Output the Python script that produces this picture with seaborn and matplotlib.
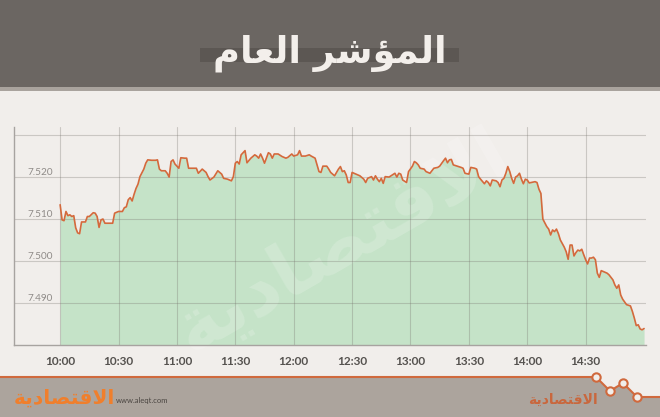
import matplotlib.pyplot as plt
import matplotlib.patches as mpatches
import matplotlib.lines as mlines
import seaborn as sns

# minutes after 10:00 and index level
minutes = [
    0, 1, 2, 3, 4, 5, 6, 7, 8, 9,
    10, 11, 13, 14, 15, 17, 18, 19, 20, 21,
    22, 23, 25, 27, 28, 30, 32, 33, 34, 35,
    36, 37, 38, 39, 40, 41, 43, 44, 45, 47,
    49, 50, 51, 52, 54, 55, 56, 57, 58, 59,
    61, 62, 64, 65, 66, 68, 70, 71, 73, 75,
    76, 77, 79, 81, 83, 84, 86, 88, 89, 90,
    91, 92, 93, 95, 96, 98, 100, 101, 102, 103,
    104, 105, 107, 108, 109, 110, 112, 114, 116, 117,
    119, 120, 122, 123, 124, 126, 128, 129, 131, 132,
    133, 134, 135, 137, 138, 139, 141, 142, 143, 144,
    145, 146, 147, 148, 149, 150, 152, 154, 156, 157,
    158, 160, 161, 162, 163, 164, 165, 166, 167, 169,
    170, 172, 173, 174, 175, 176, 178, 179, 181, 182,
    183, 184, 185, 187, 188, 190, 191, 192, 194, 195,
    197, 198, 199, 200, 201, 202, 204, 206, 207, 208,
    210, 211, 213, 214, 215, 216, 218, 219, 220, 221,
    222, 224, 225, 226, 227, 228, 229, 230, 231, 232,
    233, 234, 235, 236, 237, 238, 239, 240, 241, 242,
    244, 245, 246, 247, 248, 250, 251, 252, 253, 254,
    255, 256, 257, 259, 260, 261, 262, 263, 264, 265,
    266, 267, 268, 269, 270, 271, 272, 273, 274, 275,
    276, 277, 278, 279, 281, 282, 284, 285, 286, 287,
    288, 289, 291, 293, 294, 295, 296, 297, 298, 299, 300,
]
index_values = [
    7.5133, 7.5097, 7.5095, 7.5117, 7.5107, 7.5109, 7.5105, 7.5107, 7.5078, 7.5066,
    7.5064, 7.5092, 7.5092, 7.5105, 7.5105, 7.5114, 7.5113, 7.5105, 7.5079, 7.5097,
    7.5099, 7.5089, 7.5089, 7.5089, 7.5113, 7.5117, 7.5117, 7.5126, 7.5128, 7.5145,
    7.5150, 7.5142, 7.5158, 7.5172, 7.5182, 7.5200, 7.5218, 7.5232, 7.5240, 7.5239,
    7.5239, 7.5240, 7.5218, 7.5214, 7.5214, 7.5208, 7.5199, 7.5236, 7.5240, 7.5230,
    7.5220, 7.5245, 7.5244, 7.5244, 7.5220, 7.5220, 7.5220, 7.5208, 7.5218, 7.5210,
    7.5200, 7.5192, 7.5199, 7.5214, 7.5206, 7.5196, 7.5194, 7.5190, 7.5200, 7.5232,
    7.5236, 7.5230, 7.5252, 7.5262, 7.5233, 7.5244, 7.5252, 7.5249, 7.5244, 7.5254,
    7.5244, 7.5232, 7.5257, 7.5254, 7.5244, 7.5254, 7.5254, 7.5248, 7.5244, 7.5246,
    7.5254, 7.5249, 7.5252, 7.5262, 7.5249, 7.5249, 7.5252, 7.5249, 7.5244, 7.5228,
    7.5212, 7.5210, 7.5225, 7.5225, 7.5218, 7.5210, 7.5202, 7.5210, 7.5218, 7.5224,
    7.5212, 7.5214, 7.5204, 7.5186, 7.5186, 7.5210, 7.5206, 7.5202, 7.5194, 7.5186,
    7.5196, 7.5200, 7.5192, 7.5202, 7.5194, 7.5188, 7.5196, 7.5184, 7.5200, 7.5199,
    7.5202, 7.5208, 7.5199, 7.5208, 7.5206, 7.5192, 7.5186, 7.5212, 7.5225, 7.5236,
    7.5233, 7.5228, 7.5220, 7.5218, 7.5212, 7.5208, 7.5214, 7.5220, 7.5222, 7.5225,
    7.5238, 7.5244, 7.5233, 7.5240, 7.5241, 7.5228, 7.5225, 7.5222, 7.5220, 7.5208,
    7.5206, 7.5222, 7.5220, 7.5218, 7.5200, 7.5194, 7.5183, 7.5190, 7.5186, 7.5178,
    7.5192, 7.5190, 7.5186, 7.5176, 7.5192, 7.5196, 7.5208, 7.5224, 7.5212, 7.5196,
    7.5184, 7.5199, 7.5202, 7.5208, 7.5194, 7.5183, 7.5194, 7.5192, 7.5185, 7.5186,
    7.5188, 7.5186, 7.5170, 7.5160, 7.5099, 7.5081, 7.5075, 7.5061, 7.5073, 7.5069,
    7.5075, 7.5064, 7.5049, 7.5032, 7.5021, 7.5003, 7.5037, 7.5037, 7.5011, 7.5019,
    7.5025, 7.5023, 7.5027, 7.5014, 7.5002, 7.4992, 7.5006, 7.5006, 7.5008, 7.5002,
    7.4970, 7.4960, 7.4976, 7.4974, 7.4970, 7.4966, 7.4954, 7.4942, 7.4934, 7.4942,
    7.4918, 7.4908, 7.4895, 7.4892, 7.4879, 7.4863, 7.4845, 7.4847, 7.4837, 7.4835, 7.4838,
]

tick_minutes = [0, 30, 60, 90, 120, 150, 180, 210, 240, 270]
tick_labels = ["10:00", "10:30", "11:00", "11:30", "12:00",
               "12:30", "13:00", "13:30", "14:00", "14:30"]
y_ticks = [7.490, 7.500, 7.510, 7.520, 7.530]
y_labels = ["7.490", "7.500", "7.510", "7.520", ""]

# Arabic written in presentation forms, visual order (matplotlib does no shaping)
title_text = "\ufee1\ufe8e\ufecc\ufedf\ufe8d \ufeae\ufeb7\ufe86\ufee4\ufedf\ufe8d"  # المؤشر العام
logo_text = "\ufe94\ufef3\ufea9\ufe8e\ufebc\ufe98\ufed7\ufefb\ufe8d"  # الاقتصادية

W, H = 660, 417


def px(x, y):
    return x / W, 1 - y / H


sns.set_style("white")
plt.rcParams["font.family"] = ["Lato", "DejaVu Sans"]

fig = plt.figure(figsize=(6.6, 4.17), dpi=100)
fig.patch.set_facecolor("#f1eeeb")

# header band
fig.add_artist(mpatches.Rectangle(px(0, 87), 1, 87 / H, transform=fig.transFigure,
                                  color="#6b6662", lw=0))
fig.add_artist(mpatches.Rectangle(px(0, 91), 1, 4 / H, transform=fig.transFigure,
                                  color="#a9a39d", lw=0))
fig.add_artist(mpatches.Rectangle(px(200, 62), 259 / W, 14 / H, transform=fig.transFigure,
                                  color="#5c5753", lw=0))
fig.text(*px(330, 63), title_text, ha="center", va="baseline", fontsize=26.5,
         color="#f3efeb", weight="bold", family="DejaVu Sans")

# footer band with the little orange zigzag
foot = [(0, 377), (596, 377), (610, 391), (623, 383), (637, 397), (660, 397)]
poly = [px(x, y) for x, y in foot] + [px(660, 417), px(0, 417)]
fig.add_artist(mpatches.Polygon(poly, closed=True, transform=fig.transFigure,
                                color="#aca49d", lw=0))
fx = [px(x, y)[0] for x, y in foot]
fy = [px(x, y)[1] for x, y in foot]
fig.add_artist(mlines.Line2D(fx, fy, transform=fig.transFigure, color="#d0693d", lw=1.5))
fig.add_artist(mlines.Line2D(fx[1:5], fy[1:5], transform=fig.transFigure, ls="none",
                             marker="o", ms=6, mfc="#f1eeeb", mec="#d0693d", mew=1.5))

fig.text(*px(64, 404), logo_text, ha="center", va="baseline", fontsize=14.5,
         color="#f07f2c", weight="bold", family="DejaVu Sans")
fig.text(*px(116, 401), "www.aleqt.com", ha="left", va="center", fontsize=5.5,
         color="#4a4541")
fig.text(*px(563, 404), logo_text, ha="center", va="baseline", fontsize=10,
         color="#c9673d", weight="bold", family="DejaVu Sans")

# chart
ax = fig.add_axes([14 / W, 1 - 344.5 / H, 632 / W, (344.5 - 126.7) / H])
ax.set_facecolor("none")

ax.fill_between(minutes, index_values, 7.48, color="#c5e3c8", lw=0, zorder=1)
sns.lineplot(x=minutes, y=index_values, ax=ax, color="#d4693c", lw=1.2, zorder=2)

# faint background watermark
ax.text(0.52, 0.47, logo_text, transform=ax.transAxes, ha="center", va="center",
        fontsize=54, rotation=30, color="white", alpha=0.18, weight="bold",
        family="DejaVu Sans", zorder=1.2)

ax.set_xlim(-23.7, 301)
ax.set_ylim(7.480, 7.5319)
ax.set_axisbelow("line")
ax.grid(True, color="#736e69", alpha=0.3, lw=0.8)

ax.set_xticks(tick_minutes, tick_labels)
ax.set_xticks([-23.7], minor=True)
ax.tick_params(axis="x", which="both", length=5.5, width=1, color="#a7a3a0",
               labelsize=8.5, labelcolor="#55524f", pad=2.5)
for lab in ax.get_xticklabels():
    lab.set_fontweight("bold")

ax.set_yticks(y_ticks, y_labels)
ax.tick_params(axis="y", length=0, pad=-9.4, labelsize=7.2, labelcolor="#8f8b88")
for lab in ax.get_yticklabels():
    lab.set_horizontalalignment("left")
    lab.set_verticalalignment("bottom")

ax.set_xlabel("")
ax.set_ylabel("")
for side in ["top", "right"]:
    ax.spines[side].set_visible(False)
for side in ["left", "bottom"]:
    ax.spines[side].set_color("#a7a3a0")
    ax.spines[side].set_linewidth(1)

fig.savefig("out.png", dpi=100, facecolor=fig.get_facecolor())
